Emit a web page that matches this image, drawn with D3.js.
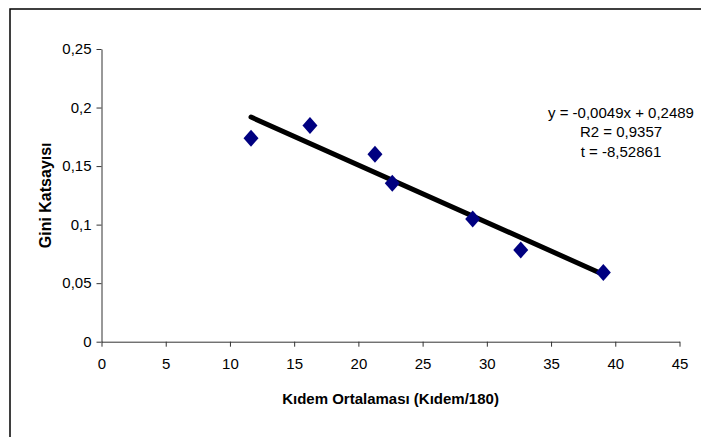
<!DOCTYPE html>
<html>
<head>
<meta charset="utf-8">
<script src="https://cdn.jsdelivr.net/npm/d3@7/dist/d3.min.js"></script>
<style>
  html, body { margin: 0; padding: 0; background: #fff; }
  svg { display: block; }
  text { font-family: "Liberation Sans", Arial, sans-serif; fill: #000; }
</style>
</head>
<body>
<svg id="chart" width="701" height="437"></svg>
<script>
// Mean seniority (Kıdem/180) and Gini coefficient per group
const kidemValues = [11.64, 16.23, 21.29, 22.64, 28.90, 32.64, 39.07];
const giniValues  = [0.1738, 0.1846, 0.1602, 0.1354, 0.1049, 0.0784, 0.0590];

// Linear trend reported on the chart
const trendSlope = -0.0049;
const trendIntercept = 0.2489;
const trendLabels = ["y = -0,0049x + 0,2489", "R2 = 0,9357", "t = -8,52861"];

const xTicks = [0, 5, 10, 15, 20, 25, 30, 35, 40, 45];
const yTicks = [0, 0.05, 0.1, 0.15, 0.2, 0.25];
const xTitle = "Kıdem Ortalaması (Kıdem/180)";
const yTitle = "Gini Katsayısı";

const svg = d3.select("#chart");
const trLocale = d3.formatLocale({ decimal: ",", thousands: ".", grouping: [3], currency: ["", " TL"] });
const fmt = v => trLocale.format("~g")(v);

// outer frame
svg.append("rect")
  .attr("x", 10).attr("y", 9)
  .attr("width", 700).attr("height", 440)
  .attr("fill", "none").attr("stroke", "#000").attr("stroke-width", 1.5);

const x = d3.scaleLinear().domain([0, 45]).range([101.5, 679.5]);
const y = d3.scaleLinear().domain([0, 0.25]).range([341.7, 49]);

const xAxis = svg.append("g")
  .attr("transform", `translate(0,${y(0)})`)
  .call(d3.axisBottom(x).tickValues(xTicks).tickSize(5).tickPadding(12).tickFormat(fmt).tickSizeOuter(0));
const yAxis = svg.append("g")
  .attr("transform", `translate(${x(0)},0)`)
  .call(d3.axisLeft(y).tickValues(yTicks).tickSize(5).tickPadding(5).tickFormat(fmt).tickSizeOuter(0));

[xAxis, yAxis].forEach(g => {
  g.selectAll("path.domain").attr("stroke", "#333").attr("stroke-width", 1);
  g.selectAll(".tick line").attr("stroke", "#333").attr("stroke-width", 1);
  g.selectAll(".tick text").style("font-family", "'Liberation Sans', Arial, sans-serif").style("font-size", "15px").attr("fill", "#000");
});

// axis titles
svg.append("text")
  .attr("x", (x(0) + x(45)) / 2).attr("y", 404)
  .attr("text-anchor", "middle")
  .style("font-size", "15px").style("font-weight", "bold")
  .text(xTitle);
svg.append("text")
  .attr("transform", `translate(51,${(y(0) + y(0.25)) / 2}) rotate(-90)`)
  .attr("text-anchor", "middle")
  .style("font-size", "16px").style("font-weight", "bold")
  .text(yTitle);

// trend line over the observed range
const xMin = d3.min(kidemValues), xMax = d3.max(kidemValues);
svg.append("line")
  .attr("x1", x(xMin)).attr("y1", y(trendSlope * xMin + trendIntercept))
  .attr("x2", x(xMax)).attr("y2", y(trendSlope * xMax + trendIntercept))
  .attr("stroke", "#000").attr("stroke-width", 5).attr("stroke-linecap", "round");

// diamond markers
svg.append("g").selectAll("path")
  .data(kidemValues.map((k, i) => [k, giniValues[i]]))
  .join("path")
  .attr("d", "M0,-8.5L7.5,0L0,8.5L-7.5,0Z")
  .attr("transform", d => `translate(${x(d[0])},${y(d[1])})`)
  .attr("fill", "#000080");

// regression annotation
const ann = svg.append("text")
  .attr("text-anchor", "middle")
  .style("font-size", "15px");
trendLabels.forEach((t, i) => {
  ann.append("tspan").attr("x", 621).attr("y", 117.5 + i * 19.7).text(t);
});
</script>
</body>
</html>
